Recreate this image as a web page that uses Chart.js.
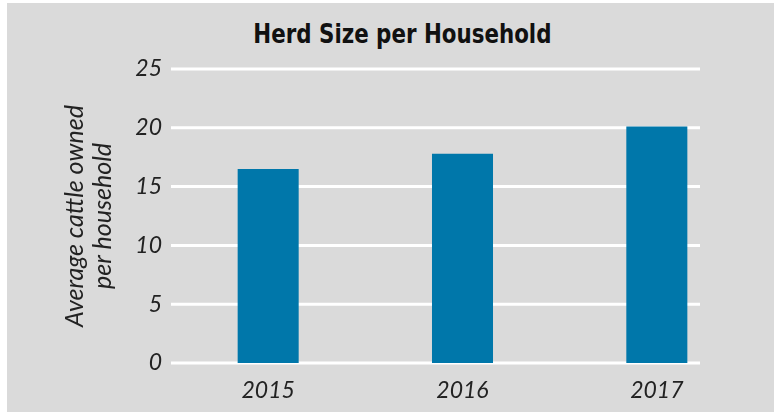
<!DOCTYPE html>
<html>
<head>
<meta charset="utf-8">
<script src="https://cdn.jsdelivr.net/npm/chart.js@4/dist/chart.umd.min.js"></script>
<style>
  body { margin: 0; background: #fff; }
  #box { position: absolute; left: 7px; top: 3px; width: 767px; height: 409px; background: #dadada; }
  #title {
    position: absolute; left: 0; top: 15px; width: 790px; text-align: center;
    font-family: 'DejaVu Sans', sans-serif; font-weight: bold; font-size: 27px;
    font-stretch: condensed; color: #111;
  }
  #title span { display: inline-block; transform: scaleX(0.88); }
  canvas { position: absolute; left: 0; top: 0; }
</style>
</head>
<body>
<div id="box">
  <div id="title"><span>Herd Size per Household</span></div>
  <canvas id="chart" width="767" height="409"></canvas>
</div>
<script>
const years = ['2015', '2016', '2017'];
const herd_size = [16.5, 17.8, 20.1];
const y_title = ['Average cattle owned', 'per household'];

const text_color = '#222';
const bar_color = '#0077aa';

// White gridlines that stop short of the right edge, like the original.
const short_grid = {
    id: 'short_grid',
    beforeDatasetsDraw(chart) {
        const { ctx, chartArea, scales: { y } } = chart;
        ctx.save();
        ctx.strokeStyle = '#fff';
        ctx.lineWidth = 3;
        y.ticks.forEach(t => {
            const py = y.getPixelForValue(t.value);
            ctx.beginPath();
            ctx.moveTo(chartArea.left, py);
            ctx.lineTo(chartArea.left + 529, py);
            ctx.stroke();
        });
        ctx.restore();
    }
};

new Chart(document.getElementById('chart'), {
    type: 'bar',
    data: {
        labels: years,
        datasets: [{
            data: herd_size,
            backgroundColor: bar_color,
            borderWidth: 0,
            categoryPercentage: 1.0,
            barPercentage: 0.314
        }]
    },
    options: {
        responsive: false,
        animation: false,
        layout: { padding: { top: 66, right: 20, left: 0, bottom: 0 } },
        plugins: {
            legend: { display: false },
            tooltip: { enabled: false }
        },
        scales: {
            x: {
                grid: { display: false, drawTicks: false },
                border: { display: false },
                ticks: {
                    color: text_color,
                    padding: 14,
                    font: { family: 'Lato', style: 'italic', size: 23 }
                },
                afterFit(scale) { scale.height = 49; }
            },
            y: {
                min: 0,
                max: 25,
                grid: { display: false, drawTicks: false },
                border: { display: false },
                ticks: {
                    stepSize: 5,
                    color: text_color,
                    padding: 9,
                    font: { family: 'Lato', style: 'italic', size: 23 }
                },
                title: {
                    display: true,
                    text: y_title,
                    color: text_color,
                    padding: { top: 54, bottom: 0 },
                    font: { family: 'Lato', style: 'italic', size: 25, lineHeight: 1.12 }
                },
                afterFit(scale) { scale.width = 164; }
            }
        }
    },
    plugins: [short_grid]
});
</script>
</body>
</html>
